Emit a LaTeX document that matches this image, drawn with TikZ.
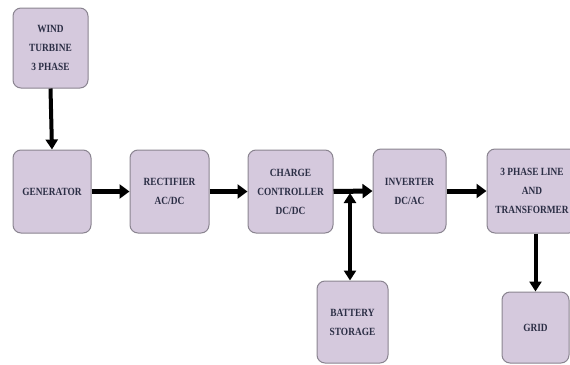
\documentclass[tikz,border=0pt]{standalone}
\usepackage{fontspec}
\setmainfont{Liberation Serif}
\newfontfamily\boxfont[FakeStretch=0.85]{Liberation Serif}
\usetikzlibrary{arrows.meta}
\definecolor{boxfill}{HTML}{D5C9DD}
\definecolor{boxline}{HTML}{8A8490}
\definecolor{txt}{HTML}{2B2E45}
\tikzset{
  blk/.style={draw=boxline, line width=1pt, fill=boxfill, rounded corners=8pt,
    align=center, font=\boxfont\bfseries\fontsize{11}{19}\selectfont, text=txt, inner sep=0pt},
  flow/.style={line width=5pt, -{Triangle[width=14pt,length=10pt]}},
  vflow/.style={line width=4pt, -{Triangle[width=12pt,length=10pt]}},
}
\begin{document}
\begin{tikzpicture}[x=1pt,y=-1pt]
\useasboundingbox (0,0) rectangle (570,364);
\clip (0,0) rectangle (570,364);
\node[blk, minimum width=75pt, minimum height=80pt] (wind) at (50.5,48) {WIND\\TURBINE\\3 PHASE};
\node[blk, minimum width=78pt, minimum height=83pt] (gen) at (52,191.5) {GENERATOR};
\node[blk, minimum width=79pt, minimum height=83pt] (rect) at (169.5,191.5) {RECTIFIER\\AC/DC};
\node[blk, minimum width=85pt, minimum height=83pt] (cc) at (290.5,191.5) {CHARGE\\CONTROLLER\\DC/DC};
\node[blk, minimum width=73pt, minimum height=84pt] (inv) at (409.5,191) {INVERTER\\DC/AC};
\node[blk, minimum width=90pt, minimum height=84pt] (tr) at (532,191) {3 PHASE LINE\\AND\\TRANSFORMER};
\node[blk, minimum width=71pt, minimum height=82pt] (batt) at (352.5,322) {BATTERY\\STORAGE};
\node[blk, minimum width=67pt, minimum height=71pt] (grid) at (535.5,327.5) {GRID};
\coordinate (j) at (350,193);
\draw[vflow] (wind.south) -- (gen.north);
\draw[flow] (gen.east) -- (rect.west);
\draw[flow] (rect.east) -- (cc.west);
\draw[flow] (cc.east) -- (inv.west);
\draw[flow] (inv.east) -- (tr.west);
\draw[line width=4pt, {Triangle[width=12pt,length=10pt]}-{Triangle[width=12pt,length=10pt]}] (j) -- (j |- batt.north);
\draw[vflow] (grid.north |- tr.south) -- (grid.north);
\end{tikzpicture}
\end{document}
